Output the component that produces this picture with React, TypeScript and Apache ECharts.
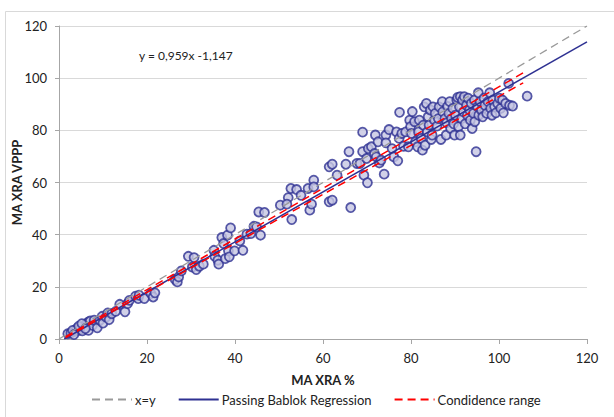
import React, { useEffect, useRef } from "react";
import * as echarts from "echarts";

const pointsX = [
  2.0, 2.7, 3.6, 4.0, 4.5, 4.9, 5.3, 5.8, 6.2, 6.7, 6.7, 7.1, 7.6, 8.0, 8.7, 9.3, 9.8, 10.0, 10.7, 11.1,
  11.4, 12.0, 12.9, 13.8, 15.0, 15.6, 16.0, 17.4, 18.0, 18.2, 19.4, 20.9, 21.4, 21.8, 3.1, 4.5, 5.2, 6.0, 3.4,
  26.4, 26.9, 27.2, 27.8, 29.4, 30.7, 30.3, 31.2, 31.9, 32.8, 35.2, 35.4, 36.1, 36.3, 37.0, 37.4, 37.8, 38.3,
  38.5, 39.0, 38.7, 39.9, 41.1, 41.8, 42.7, 43.6, 44.3, 44.9, 45.4, 45.8, 46.7,
  50.3, 52.1, 51.8, 52.7, 52.9, 54.0, 55.0, 56.6, 57.0, 57.4, 57.9, 57.9, 61.4, 62.1, 61.4, 62.1, 63.2, 65.2,
  65.9, 66.3, 67.7, 68.4, 69.0, 69.0, 69.3, 69.9, 70.1, 70.3, 71.0, 71.7, 71.9, 72.1, 72.5, 72.8, 73.2, 73.9,
  74.3, 74.3, 75.0, 75.7, 76.1, 76.7, 77.0, 77.4, 77.3, 77.9, 78.3, 78.8, 79.4, 79.7, 79.9, 80.1, 80.3, 80.8,
  81.0, 81.5, 81.7, 81.9, 82.3, 82.6, 82.8, 83.0, 83.2, 83.5, 83.7, 83.9, 84.1, 84.4, 84.6, 84.8, 85.0, 85.3,
  85.5, 85.9, 86.2, 86.4, 86.8, 87.1, 87.2, 87.7, 88.0, 88.1, 88.3, 88.6, 88.8, 89.0, 89.2, 89.5, 89.7, 89.9,
  90.1, 90.4, 90.6, 90.8, 91.0, 91.2, 91.2, 91.5, 91.7, 91.9, 92.1, 92.3, 92.6, 92.8, 93.0, 93.3, 93.5, 93.7,
  93.9, 94.2, 94.4, 94.5, 94.8, 95.1, 95.3, 95.4, 95.7, 96.0, 96.3, 96.6, 96.8, 97.2, 97.5, 97.9, 98.1, 98.4,
  98.6, 99.0, 99.3, 99.7, 100.1, 100.4, 100.8, 101.0, 101.5, 102.2, 102.4, 103.1, 106.4
];
const pointsY = [
  2.0, 2.3, 2.9, 4.0, 3.3, 4.0, 3.1, 4.9, 5.9, 3.3, 6.5, 6.9, 5.2, 7.2, 4.3, 7.2, 8.7, 6.1, 8.4, 10.0,
  7.4, 9.7, 10.6, 13.3, 10.4, 13.6, 14.8, 16.4, 15.5, 16.8, 15.5, 17.4, 16.1, 17.7, 3.3, 4.9, 5.9, 4.0, 1.7,
  22.8, 21.9, 23.8, 26.1, 31.7, 31.2, 27.6, 26.6, 27.9, 28.7, 34.0, 31.7, 30.2, 28.7, 38.9, 36.6, 30.8, 39.8,
  33.8, 42.6, 31.5, 33.8, 37.6, 34.0, 40.2, 40.4, 43.2, 43.0, 48.7, 39.8, 48.5,
  51.3, 54.2, 51.7, 57.7, 45.8, 57.3, 55.1, 57.7, 49.4, 51.7, 60.9, 58.3, 52.6, 53.2, 66.0, 67.0, 62.8, 67.0,
  71.8, 50.4, 67.3, 67.3, 79.3, 71.8, 62.8, 69.2, 59.9, 73.0, 73.7, 71.1, 78.2, 69.8, 75.6, 67.5, 68.6, 63.2,
  78.2, 75.2, 80.3, 73.0, 69.8, 79.4, 68.3, 86.9, 76.9, 78.8, 73.9, 79.4, 73.7, 83.9, 81.4, 78.8, 87.2, 83.3,
  75.6, 73.7, 79.4, 83.9, 76.9, 72.4, 82.0, 89.0, 74.3, 90.3, 79.4, 85.2, 82.0, 87.8, 76.5, 78.2, 89.0, 83.9,
  86.5, 81.6, 84.5, 89.0, 76.5, 91.0, 87.1, 84.5, 78.2, 82.9, 89.2, 86.5, 91.0, 80.7, 84.5, 88.4, 82.5, 78.2,
  85.8, 91.6, 92.6, 81.4, 89.0, 78.2, 92.9, 84.5, 91.6, 87.1, 92.9, 82.5, 89.6, 85.8, 92.3, 87.8, 83.9, 90.3,
  80.7, 86.5, 91.6, 83.3, 71.8, 89.0, 94.4, 85.8, 91.0, 87.8, 85.2, 92.3, 89.6, 86.5, 91.0, 94.4, 88.4, 85.8,
  91.6, 89.0, 86.7, 90.3, 92.3, 88.4, 91.6, 86.7, 90.3, 98.0, 89.6, 89.3, 93.1
];

const identityLine = [[0, 0], [120, 120]];
const regressionSlope = 0.959;
const regressionIntercept = -1.147;
const regressionRange = [1.2, 120];
const confUpper = [[1.5, 0.9], [106.4, 102.9]];
const confLower = [[1.5, 0.5], [105.5, 98.2]];

export default function App() {
  const ref = useRef<HTMLDivElement>(null);
  useEffect(() => {
    if (!ref.current) return;
    const chart = echarts.init(ref.current, null, { renderer: "svg" });
    const font = "Lato";
    const scatterData = pointsX.map((x, i) => [x, pointsY[i]]);
    const regressionLine = regressionRange.map((x) => [x, regressionSlope * x + regressionIntercept]);
    chart.setOption({
      animation: false,
      textStyle: { fontFamily: font },
      grid: { left: 59, right: 27, top: 26, bottom: 78, containLabel: false, outerBoundsMode: "none" },
      graphic: [
        {
          type: "rect",
          shape: { x: 5.5, y: 11.5, width: 800, height: 600 },
          style: { fill: "none", stroke: "#d9d9d9", lineWidth: 1 },
          silent: true,
        },
        {
          type: "text",
          left: 139,
          top: 49,
          style: { text: "y = 0,959x -1,147", font: `12px ${font}`, fill: "#222" },
        },
      ],
      legend: {
        bottom: 6,
        left: 86,
        itemWidth: 40,
        itemHeight: 10,
        itemGap: 22,
        itemStyle: { opacity: 0 },
        data: ["x=y", "Passing Bablok Regression", "Condidence range"],
        textStyle: { fontFamily: font, fontSize: 13, color: "#222", padding: [0, 0, 0, -2] },
      },
      xAxis: {
        type: "value",
        min: 0,
        max: 120,
        interval: 20,
        name: "MA XRA %",
        nameLocation: "middle",
        nameGap: 34,
        nameMoveOverlap: false,
        nameTextStyle: { fontFamily: font, fontSize: 13, fontWeight: "bold", color: "#222" },
        axisLine: { lineStyle: { color: "#a6a6a6" } },
        axisTick: { show: true, length: 5, lineStyle: { color: "#a6a6a6" } },
        axisLabel: { fontSize: 13, color: "#222", margin: 12 },
        splitLine: { show: false },
      },
      yAxis: {
        type: "value",
        min: 0,
        max: 120,
        interval: 20,
        name: "MA XRA VPPP",
        nameLocation: "middle",
        nameGap: 36,
        nameMoveOverlap: false,
        nameTextStyle: { fontFamily: font, fontSize: 13, fontWeight: "bold", color: "#222" },
        axisLine: { show: true, lineStyle: { color: "#a6a6a6" } },
        axisTick: { show: true, length: 4, lineStyle: { color: "#a6a6a6" } },
        axisLabel: { fontSize: 13, color: "#222", margin: 12 },
        splitLine: { show: true, lineStyle: { color: "#d9d9d9" } },
      },
      series: [
        {
          type: "scatter",
          name: "data",
          data: scatterData,
          symbol: "circle",
          symbolSize: 9,
          itemStyle: { color: "#c6c6e2", borderColor: "#2e3192", borderWidth: 1.8 },
          z: 2,
        },
        {
          type: "line",
          name: "x=y",
          data: identityLine,
          symbol: "none",
          lineStyle: { color: "#9a9a9a", width: 1.3, type: [8, 5] },
          itemStyle: { color: "#9a9a9a" },
          z: 3,
        },
        {
          type: "line",
          name: "Passing Bablok Regression",
          data: regressionLine,
          symbol: "none",
          lineStyle: { color: "#2e3192", width: 1.5 },
          itemStyle: { color: "#2e3192" },
          z: 4,
        },
        {
          type: "line",
          name: "Condidence range",
          data: confUpper,
          symbol: "none",
          lineStyle: { color: "#ff0000", width: 1.5, type: [8, 5] },
          itemStyle: { color: "#ff0000" },
          z: 4,
        },
        {
          type: "line",
          name: "Condidence range",
          data: confLower,
          symbol: "none",
          lineStyle: { color: "#ff0000", width: 1.5, type: [8, 5] },
          itemStyle: { color: "#ff0000" },
          z: 4,
        },
      ],
    });
    return () => chart.dispose();
  }, []);
  return <div ref={ref} style={{ width: 614, height: 417, position: "absolute", left: 0, top: 0 }} />;
}
